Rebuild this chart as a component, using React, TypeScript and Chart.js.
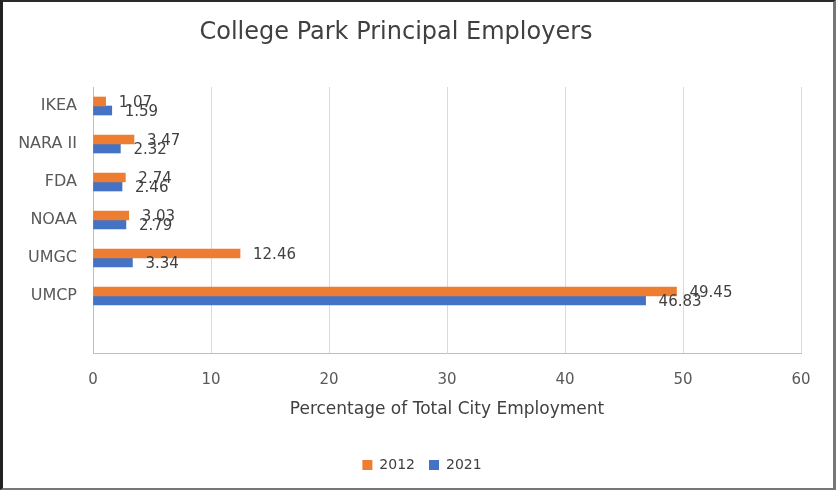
import React, { useEffect, useRef } from "react";
import { Chart, registerables } from "chart.js";

Chart.register(...registerables);

const categories = ["IKEA", "NARA II", "FDA", "NOAA", "UMGC", "UMCP", ""];
const values2012 = [1.07, 3.47, 2.74, 3.03, 12.46, 49.45, null];
const values2021 = [1.59, 2.32, 2.46, 2.79, 3.34, 46.83, null];
const seriesLabels = ["2012", "2021"];
const xTicks = [0, 10, 20, 30, 40, 50, 60];
const chartTitle = "College Park Principal Employers";
const xTitle = "Percentage of Total City Employment";

const FONT = "'DejaVu Sans', sans-serif";

const titlePlugin = {
  id: "customTitle",
  afterDraw(chart: any) {
    const ctx = chart.ctx;
    ctx.save();
    ctx.font = `24px ${FONT}`;
    ctx.fillStyle = "#404040";
    ctx.textAlign = "center";
    ctx.textBaseline = "middle";
    ctx.fillText(chartTitle, 393, 31);
    ctx.restore();
  },
};

const labelPlugin = {
  id: "barLabels",
  afterDatasetsDraw(chart: any) {
    const ctx = chart.ctx;
    ctx.save();
    ctx.font = `15px ${FONT}`;
    ctx.fillStyle = "#404040";
    ctx.textAlign = "left";
    ctx.textBaseline = "middle";
    chart.data.datasets.forEach((ds: any, di: number) => {
      const meta = chart.getDatasetMeta(di);
      meta.data.forEach((el: any, i: number) => {
        const v = ds.data[i];
        if (v == null) return;
        ctx.fillText(v.toFixed(2), el.x + 13, el.y + 1.5);
      });
    });
    ctx.restore();
  },
};

export default function App() {
  const ref = useRef<HTMLCanvasElement>(null);
  useEffect(() => {
    document.body.style.margin = "0";
    const chart = new Chart(ref.current!, {
      type: "bar",
      data: {
        labels: categories,
        datasets: [
          {
            label: seriesLabels[0],
            data: values2012,
            backgroundColor: "#ED7D31",
            barThickness: 9,
          },
          {
            label: seriesLabels[1],
            data: values2021,
            backgroundColor: "#4472C4",
            barThickness: 9,
          },
        ],
      },
      options: {
        indexAxis: "y",
        animation: false,
        responsive: false,
        maintainAspectRatio: false,
        layout: { padding: { left: 8, right: 0, top: 85, bottom: 6 } },
        scales: {
          x: {
            min: 0,
            max: 60,
            afterBuildTicks(scale: any) {
              scale.ticks = xTicks.map((v) => ({ value: v }));
            },
            afterFit(scale: any) {
              scale.height = 91;
            },
            grid: { color: "#d9d9d9", drawTicks: false },
            border: { color: "#bfbfbf" },
            ticks: {
              padding: 18,
              color: "#595959",
              font: { family: FONT, size: 15 },
            },
            title: {
              display: true,
              text: xTitle,
              color: "#404040",
              font: { family: FONT, size: 17 },
              padding: { top: 0, bottom: 24 },
            },
          },
          y: {
            afterFit(scale: any) {
              scale.width = 82;
            },
            grid: { display: false, drawTicks: false },
            border: { color: "#bfbfbf" },
            ticks: {
              padding: 16,
              color: "#595959",
              font: { family: FONT, size: 16 },
            },
          },
          yRightSpace: {
            type: "linear",
            position: "right",
            display: true,
            afterFit(scale: any) {
              scale.width = 32;
            },
            grid: { display: false, drawTicks: false },
            border: { display: false },
            ticks: { display: false },
          },
        },
        plugins: {
          title: { display: false },
          tooltip: { enabled: false },
          legend: {
            position: "bottom",
            labels: {
              boxWidth: 10,
              boxHeight: 10,
              color: "#404040",
              font: { family: FONT, size: 14 },
              padding: 14,
            },
          },
        },
      },
      plugins: [titlePlugin, labelPlugin],
    });
    return () => chart.destroy();
  }, []);
  return (
    <div
      style={{
        width: 836,
        height: 490,
        boxSizing: "border-box",
        borderTop: "2px solid #2a2a2a",
        borderLeft: "3px solid #222",
        borderRight: "3px solid #777",
        borderBottom: "2px solid #777",
        background: "#fff",
      }}
    >
      <canvas ref={ref} width={830} height={486} style={{ display: "block" }} />
    </div>
  );
}
